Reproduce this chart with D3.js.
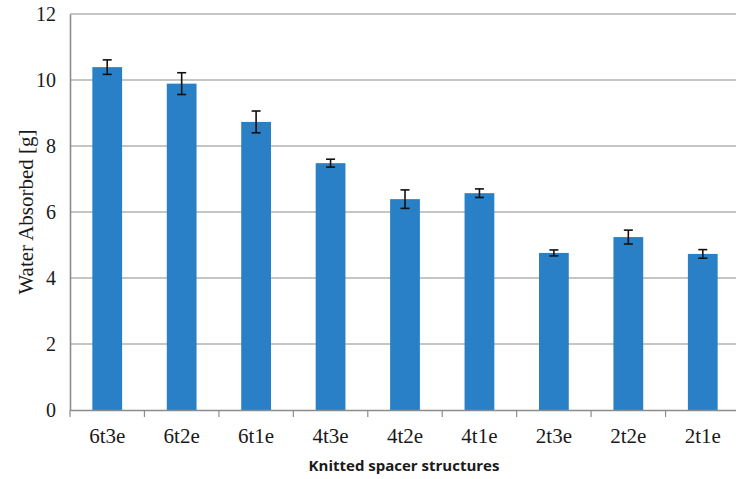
<!DOCTYPE html>
<html><head><meta charset="utf-8">
<script src="https://cdn.jsdelivr.net/npm/d3@7"></script>
<style>html,body{margin:0;padding:0;background:#fff;overflow:hidden}</style>
</head><body>
<svg id="c" width="736" height="479"></svg>
<script>
const categories = ["6t3e","6t2e","6t1e","4t3e","4t2e","4t1e","2t3e","2t2e","2t1e"];
const values = [10.39, 9.89, 8.73, 7.48, 6.39, 6.57, 4.76, 5.24, 4.73];
const errors = [0.22, 0.33, 0.33, 0.12, 0.28, 0.13, 0.09, 0.21, 0.13];
const yTicks = [0, 2, 4, 6, 8, 10, 12];
const yTitle = "Water Absorbed [g]";
const xTitle = "Knitted spacer structures";

const svg = d3.select("#c");
const L = 70, R = 740, T = 14, B = 410;
const x = d3.scaleBand().domain(categories).range([L, R]).paddingInner(0.6).paddingOuter(0.3);
const y = d3.scaleLinear().domain([0, 12]).range([B, T]);
const gridColor = "#8c8c8c";
const serif = '"Liberation Serif"';

// gridlines
svg.append("g").selectAll("line").data(yTicks.filter(d => d > 0)).join("line")
  .attr("x1", L).attr("x2", R).attr("y1", d => y(d)).attr("y2", d => y(d))
  .attr("stroke", gridColor).attr("stroke-width", 1.2);

// bars
svg.append("g").selectAll("rect").data(categories).join("rect")
  .attr("x", d => x(d)).attr("width", x.bandwidth())
  .attr("y", (d, i) => y(values[i])).attr("height", (d, i) => B - y(values[i]))
  .attr("fill", "#2a80c6");

// error bars
const eg = svg.append("g").attr("stroke", "#111").attr("stroke-width", 1.6).attr("fill", "none");
categories.forEach((c, i) => {
  const cx = x(c) + x.bandwidth() / 2;
  const hi = y(values[i] + errors[i]), lo = y(values[i] - errors[i]);
  eg.append("line").attr("x1", cx).attr("x2", cx).attr("y1", hi).attr("y2", lo);
  eg.append("line").attr("x1", cx - 4.5).attr("x2", cx + 4.5).attr("y1", hi).attr("y2", hi);
  eg.append("line").attr("x1", cx - 4.5).attr("x2", cx + 4.5).attr("y1", lo).attr("y2", lo);
});

// y axis
const ya = svg.append("g").attr("transform", `translate(${L},0)`)
  .call(d3.axisLeft(y).tickValues(yTicks).tickSize(0).tickPadding(14).tickFormat(d3.format("d")));
ya.select(".domain").attr("stroke", gridColor).attr("stroke-width", 1.6);
ya.selectAll("text").style("font-family", serif).style("font-size", "20px").attr("fill", "#1a1a1a");

// x axis
const step = x.step();
const xa = svg.append("g").attr("transform", `translate(0,${B})`)
  .call(d3.axisBottom(x).tickSize(0).tickPadding(18));
xa.select(".domain").attr("stroke", gridColor).attr("stroke-width", 1.6);
xa.selectAll("text").style("font-family", serif).style("font-size", "21px").attr("fill", "#1a1a1a");
xa.selectAll("line.bt").data(d3.range(categories.length + 1)).join("line").attr("class", "bt")
  .attr("x1", i => L + i * step).attr("x2", i => L + i * step)
  .attr("y1", 0).attr("y2", 7).attr("stroke", gridColor).attr("stroke-width", 1.2);

// titles
svg.append("text").attr("transform", "translate(33,212) rotate(-90)")
  .attr("text-anchor", "middle").style("font-family", serif).style("font-size", "21px").attr("fill", "#1a1a1a")
  .text(yTitle);
svg.append("text").attr("x", 404).attr("y", 471).attr("text-anchor", "middle")
  .style("font-family", '"Open Sans"').style("font-weight", "bold").style("font-size", "15px").attr("fill", "#1a1a1a")
  .text(xTitle);
</script>
</body></html>
